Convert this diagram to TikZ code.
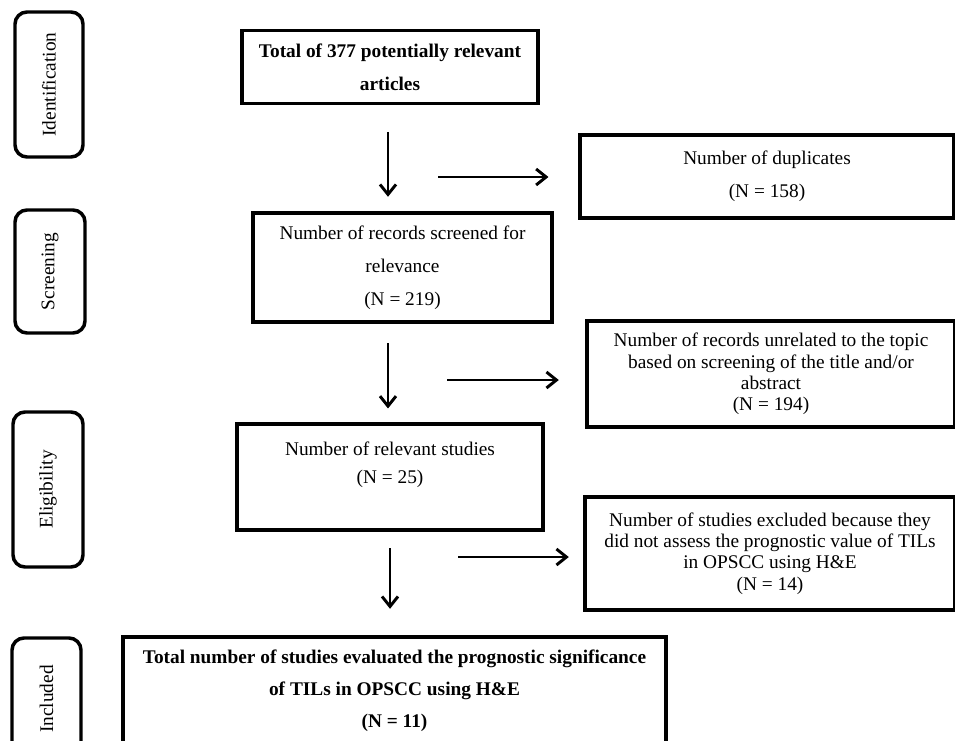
\documentclass[tikz,border=0pt]{standalone}
\usepackage{fontspec}
\setmainfont{Liberation Serif}
\usetikzlibrary{arrows.meta}

\begin{document}
\begin{tikzpicture}[x=0.75pt, y=-0.75pt,
    box/.style={rectangle, draw, line width=2.3pt, align=center, inner sep=0pt,
      font=\fontsize{14.5}{24.75}\selectfont},
    tightbox/.style={box, font=\fontsize{14.5}{16.1}\selectfont},
    phase/.style={rectangle, rounded corners=9pt, draw, line width=2.6pt,
      rotate=90, inner sep=0pt, font=\fontsize{14.5}{16}\selectfont},
    arr/.style={-{Straight Barb[length=7.5pt, width=12pt]}, line width=2.2pt},
  ]
  \useasboundingbox (0,0) rectangle (955,741);
  \clip (0,0) rectangle (955,741);
  % phase labels on the left
  \node[phase, minimum width=108.75pt, minimum height=51pt] (ident) at (49,84.5) {Identification};
  \node[phase, minimum width=92.25pt, minimum height=52.5pt] (scr) at (50,271.5) {Screening};
  \node[phase, minimum width=116.25pt, minimum height=52.5pt] (elig) at (48,489.5) {Eligibility};
  \node[phase, minimum width=91.5pt, minimum height=51.75pt] (incl) at (46.5,699) {Included};
  % main track
  \node[box, minimum width=222pt, minimum height=54.75pt, font=\fontsize{14.5}{24.75}\selectfont\bfseries]
    (total) at (390,67) {Total of 377 potentially relevant\\articles};
  \node[box, minimum width=224.25pt, minimum height=81.75pt] (screen) at (402.5,267.5)
    {Number of records screened for\\relevance\\(N = 219)};
  \node[box, minimum width=229.5pt, minimum height=79.5pt, font=\fontsize{14.5}{21}\selectfont]
    (relev) at (390,477) {Number of relevant studies\\(N = 25)\\\mbox{}};
  \node[box, minimum width=407.25pt, minimum height=80.25pt, font=\fontsize{14.5}{24}\selectfont\bfseries]
    (final) at (394.5,690.5)
    {Total number of studies evaluated the prognostic significance\\of TILs in OPSCC using H\&E\\(N = 11)};
  % exclusions on the right
  \node[box, minimum width=280.5pt, minimum height=62.25pt] (dup) at (767,176.5)
    {Number of duplicates\\(N = 158)};
  \node[tightbox, minimum width=276pt, minimum height=79.5pt] (unrel) at (771,374)
    {Number of records unrelated to the topic\\based on screening of the title and/or\\abstract\\(N = 194)};
  \node[tightbox, minimum width=277.5pt, minimum height=84.75pt] (excl) at (770,553.5)
    {Number of studies excluded because they\\did not assess the prognostic value of TILs\\in OPSCC using H\&E\\(N = 14)};
  % flow
  \coordinate (d1) at (388,132);
  \coordinate (d2) at (388,343);
  \coordinate (d3) at (390,548);
  \coordinate (r1) at (438,177);
  \coordinate (r2) at (447,380);
  \coordinate (r3) at (458,557);
  \draw[arr, shorten >=11pt] (d1) -- (d1 |- screen.north);
  \draw[arr, shorten >=10.5pt] (d2) -- (d2 |- relev.north);
  \draw[arr, shorten >=20pt] (d3) -- (d3 |- final.north);
  \draw[arr, shorten >=22.5pt] (r1) -- (r1 -| dup.west);
  \draw[arr, shorten >=20pt] (r2) -- (r2 -| unrel.west);
  \draw[arr, shorten >=11pt] (r3) -- (r3 -| excl.west);
\end{tikzpicture}
\end{document}
